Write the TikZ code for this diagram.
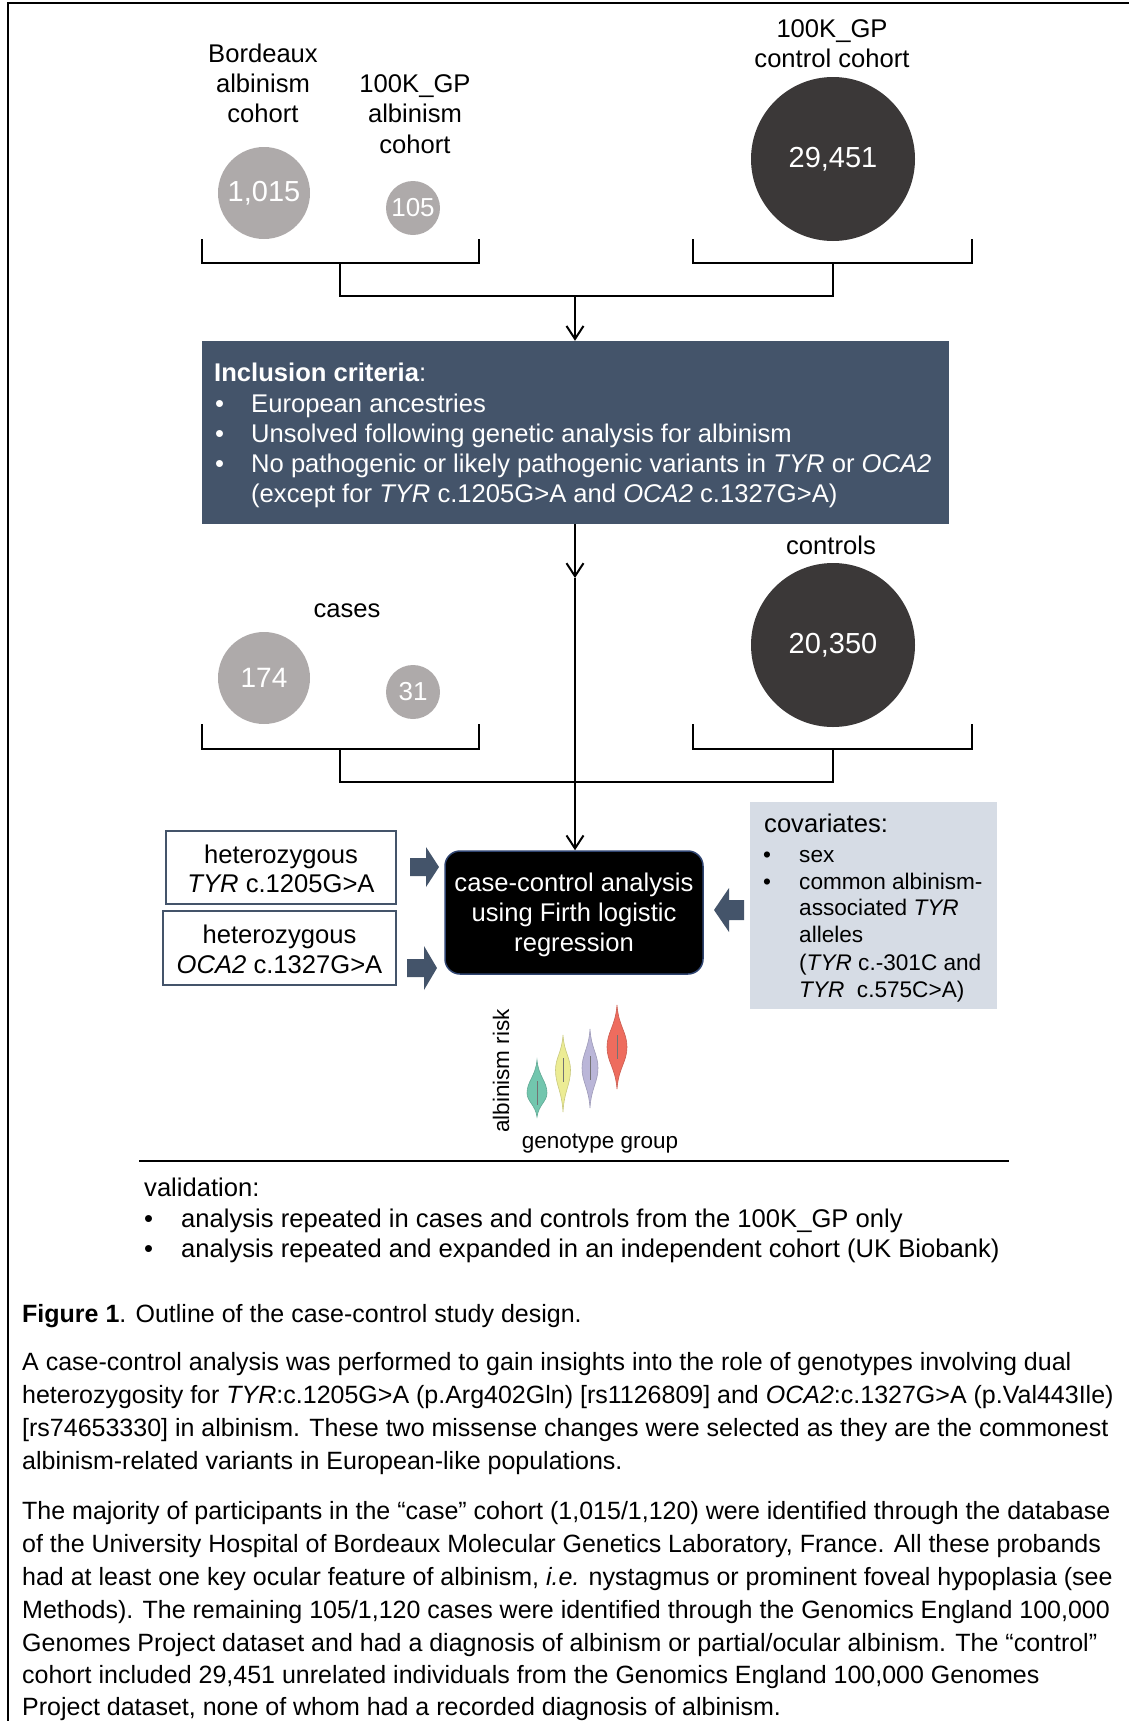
\documentclass[tikz,border=0pt]{standalone}
\usepackage{fontspec}
\setmainfont{Liberation Sans}
\usetikzlibrary{arrows.meta}
\definecolor{slate}{HTML}{44546A}
\definecolor{lgray}{HTML}{AEAAAA}
\definecolor{dgray}{HTML}{3B3838}
\definecolor{covbg}{HTML}{D6DCE5}
\definecolor{navy}{HTML}{2F4470}
\definecolor{vteal}{HTML}{72C6AE}
\definecolor{vyellow}{HTML}{ECEC94}
\definecolor{vpurple}{HTML}{BAB6D8}
\definecolor{vred}{HTML}{EE6C5E}
\newcommand{\myfs}[1]{\fontsize{#1}{#1}\selectfont}
\newcommand{\myviolin}[6]{%
  \fill[#6, draw=#6!85!black, line width=0.6pt]
   (#1,#2) .. controls ({#1+0.15*#5},{#4-0.5*(#4-#2)}) and ({#1+#5},{#4-0.35*(#4-#2)}) .. ({#1+#5},#4)
   .. controls ({#1+#5},{#4+0.35*(#3-#4)}) and ({#1+0.15*#5},{#4+0.5*(#3-#4)}) .. (#1,#3)
   .. controls ({#1-0.15*#5},{#4+0.5*(#3-#4)}) and ({#1-#5},{#4+0.35*(#3-#4)}) .. ({#1-#5},#4)
   .. controls ({#1-#5},{#4-0.35*(#4-#2)}) and ({#1-0.15*#5},{#4-0.5*(#4-#2)}) .. (#1,#2) -- cycle;
  \draw[black!55, line width=0.8pt] (#1,{#4-12}) -- (#1,{#4+12});}
\begin{document}
\begin{tikzpicture}[x=1pt,y=-1pt,
  ln/.style={line width=2.4pt, black},
  arr/.style={-{Straight Barb[length=13pt,width=17pt,line width=2pt]}},
  t/.style={inner sep=0pt, anchor=base, font=\myfs{25.6}},
  tl/.style={t, anchor=base west},
  sm/.style={inner sep=0pt, anchor=base west, font=\myfs{22.6}},
  captxt/.style={inner sep=0pt, anchor=base west, font=\myfs{25}},
  lcirc/.style={circle, fill=lgray, inner sep=0pt, text=white},
  dcirc/.style={circle, fill=dgray, inner sep=0pt, text=white, font=\myfs{29}},
  gbox/.style={draw=slate, line width=1.4pt, fill=white, inner sep=0pt},
  blk/.style={fill=slate}
]
\useasboundingbox (0,0) rectangle (1129,1721);
% page frame
\draw[line width=1.3pt] (8,1721) -- (8,3) -- (1129,3);

% ---------- top cohorts ----------
\node[t] (l1a) at (263,62) {Bordeaux};
\node[t] (l1b) at (263,92) {albinism};
\node[t] (l1c) at (263,122) {cohort};
\node[t] (l2a) at (415,92) {100K\_GP};
\node[t] (l2b) at (415,122) {albinism};
\node[t] (l2c) at (415,153) {cohort};
\node[t] (l3a) at (832,37) {100K\_GP};
\node[t] (l3b) at (832,67) {control cohort};

\node[lcirc, minimum size=92pt, font=\myfs{29}] (c1) at (264,193) {1,015};
\node[lcirc, minimum size=54pt, font=\myfs{26}] (c2) at (413,208) {105};
\node[dcirc, minimum size=164pt] (c3) at (833,159) {29,451};

% brackets
\draw[ln] (202,239) -- (202,263) -- (479,263) -- (479,239);
\draw[ln] (693,239) -- (693,263) -- (972,263) -- (972,239);
\coordinate (b1) at (340,263);
\coordinate (b2) at (833,263);
\coordinate (j1) at (340,296);
\coordinate (j2) at (833,296);
\coordinate (jm) at (575,296);
\draw[ln] (b1) -- (j1) -- (j2) -- (b2);

% ---------- inclusion box ----------
\node[fill=slate, minimum width=747pt, minimum height=183pt, inner sep=0pt] (incl) at (575,432.5) {};
\draw[ln,arr] (jm) -- (incl.north);
\begin{scope}[every node/.append style={text=white}]
\node[tl] (i0) at (214,381) {\textbf{Inclusion criteria}:};
\node[tl] (i1b) at (215,412) {•};
\node[tl] (i1) at (251,412) {European ancestries};
\node[tl] (i2b) at (215,442) {•};
\node[tl] (i2) at (251,442) {Unsolved following genetic analysis for albinism};
\node[tl] (i3b) at (215,472) {•};
\node[tl] (i3) at (251,472) {No pathogenic or likely pathogenic variants in \textit{TYR} or \textit{OCA2}};
\node[tl] (i4) at (251,502) {(except for \textit{TYR} c.1205G>A and \textit{OCA2} c.1327G>A)};
\end{scope}

% ---------- cases / controls ----------
\node[t] (lcon) at (831,554) {controls};
\node[t] (lcas) at (347,617) {cases};
\node[lcirc, minimum size=92pt, font=\myfs{28}] (c4) at (264,678) {174};
\node[lcirc, minimum size=54pt, font=\myfs{26}] (c5) at (413,692) {31};
\node[dcirc, minimum size=164pt] (c6) at (833,645) {20,350};

\draw[ln] (202,724) -- (202,749) -- (479,749) -- (479,724);
\draw[ln] (693,724) -- (693,749) -- (972,749) -- (972,724);
\coordinate (b3) at (340,749);
\coordinate (b4) at (833,749);
\coordinate (j3) at (340,782);
\coordinate (j4) at (833,782);
\draw[ln] (b3) -- (j3) -- (j4) -- (b4);

% ---------- analysis ----------
\node[fill=black, draw=navy, line width=1.5pt, rounded corners=15pt, minimum width=258pt, minimum height=123pt, inner sep=0pt] (ana) at (574,912.5) {};
\node[t, text=white] (a1) at (574,891) {case-control analysis};
\node[t, text=white] (a2) at (574,921) {using Firth logistic};
\node[t, text=white] (a3) at (574,951) {regression};

\coordinate (m1) at (575,578);
\draw[ln,arr] (incl.south -| m1) -- (m1);
\draw[ln,arr] (m1) -- (ana.north -| m1);

% left boxes
\node[gbox, minimum width=230pt, minimum height=73pt] (h1) at (281,867.5) {};
\node[t] (h1a) at (281,863) {heterozygous};
\node[t] (h1b) at (281,892) {\textit{TYR} c.1205G>A};
\node[gbox, minimum width=233pt, minimum height=74pt] (h2) at (279.5,948) {};
\node[t] (h2a) at (279.5,943) {heterozygous};
\node[t] (h2b) at (279.5,973) {\textit{OCA2} c.1327G>A};

% block arrows
\fill[blk] (410,858) -- (426,858) -- (426,847) -- (439,867) -- (426,887) -- (426,876) -- (410,876) -- cycle;
\fill[blk] (407,959) -- (424,959) -- (424,946) -- (437,968) -- (424,990) -- (424,977) -- (407,977) -- cycle;
\fill[blk] (744,900) -- (729,900) -- (729,888) -- (714,910) -- (729,932) -- (729,920) -- (744,920) -- cycle;

% covariates
\node[fill=covbg, minimum width=247pt, minimum height=207pt, inner sep=0pt] (cov) at (873.5,905.5) {};
\node[tl] (v0) at (764,832) {covariates:};
\node[sm] (v1b) at (763,862) {•};
\node[sm] (v1) at (799,862) {sex};
\node[sm] (v2b) at (763,889) {•};
\node[sm] (v2) at (799,889) {common albinism-};
\node[sm] (v3) at (799,915) {associated \textit{TYR}};
\node[sm] (v4) at (799,942) {alleles};
\node[sm] (v5) at (799,970) {(\textit{TYR} c.-301C and};
\node[sm] (v6) at (799,997) {\textit{TYR}\ \ c.575C>A)};

% violin plot
\myviolin{537}{1060}{1117}{1093}{10}{vteal}
\myviolin{563}{1035}{1112}{1070}{7.5}{vyellow}
\myviolin{590}{1029}{1108}{1068}{8}{vpurple}
\myviolin{617}{1005}{1089}{1047}{10}{vred}
\node[inner sep=0pt, anchor=base, rotate=90, font=\myfs{22.5}] (yl) at (509,1071) {albinism risk};
\node[inner sep=0pt, anchor=base, font=\myfs{22.5}] (xl) at (600,1148) {genotype group};

% rule
\draw[line width=2.6pt] (139,1161) -- (1009,1161);

% validation
\node[tl] (va0) at (144,1196) {validation:};
\node[tl] (va1b) at (144,1227) {•};
\node[tl] (va1) at (181,1227) {analysis repeated in cases and controls from the 100K\_GP only};
\node[tl] (va2b) at (144,1257) {•};
\node[tl] (va2) at (181,1257) {analysis repeated and expanded in an independent cohort (UK Biobank)};

% caption
\node[captxt] (f0) at (22,1322) {\textbf{Figure 1}. Outline of the case-control study design.};
\node[captxt] (p1) at (22,1370) {A case-control analysis was performed to gain insights into the role of genotypes involving dual};
\node[captxt] (p2) at (22,1403) {heterozygosity for \textit{TYR}:c.1205G>A (p.Arg402Gln) [rs1126809] and \textit{OCA2}:c.1327G>A (p.Val443Ile)};
\node[captxt] (p3) at (22,1436) {[rs74653330] in albinism. These two missense changes were selected as they are the commonest};
\node[captxt] (p4) at (22,1469) {albinism-related variants in European-like populations.};
\node[captxt] (q1) at (22,1519) {The majority of participants in the “case” cohort (1,015/1,120) were identified through the database};
\node[captxt] (q2) at (22,1552) {of the University Hospital of Bordeaux Molecular Genetics Laboratory, France. All these probands};
\node[captxt] (q3) at (22,1585) {had at least one key ocular feature of albinism, \textit{i.e.} nystagmus or prominent foveal hypoplasia (see};
\node[captxt] (q4) at (22,1618) {Methods). The remaining 105/1,120 cases were identified through the Genomics England 100,000};
\node[captxt] (q5) at (22,1651) {Genomes Project dataset and had a diagnosis of albinism or partial/ocular albinism. The “control”};
\node[captxt] (q6) at (22,1683) {cohort included 29,451 unrelated individuals from the Genomics England 100,000 Genomes};
\node[captxt] (q7) at (22,1715) {Project dataset, none of whom had a recorded diagnosis of albinism.};
\end{tikzpicture}
\end{document}
